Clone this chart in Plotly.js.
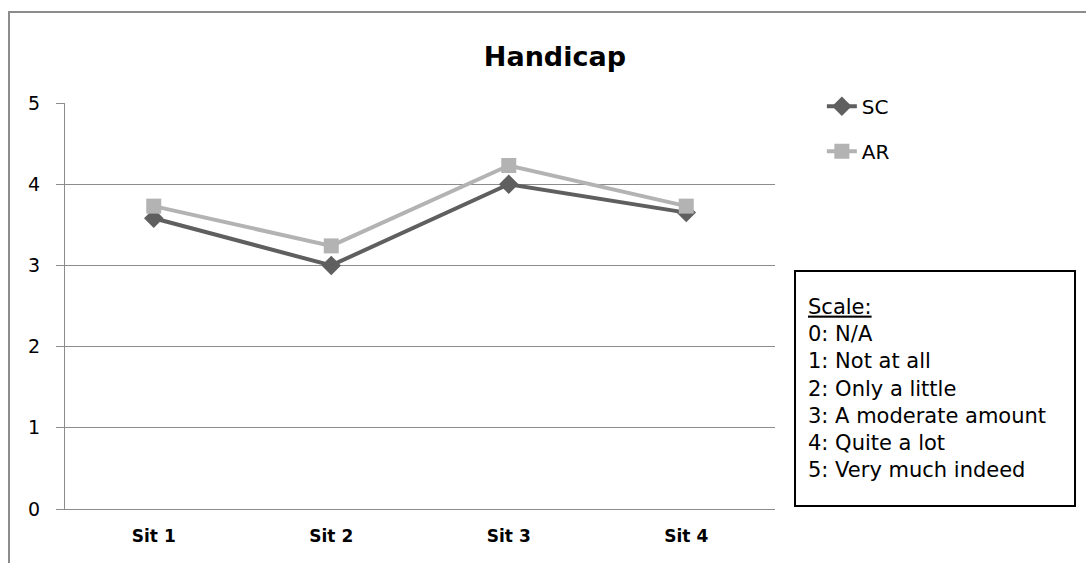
<!DOCTYPE html>
<html>
<head>
<meta charset="utf-8">
<script src="https://cdn.plot.ly/plotly-3.0.1.min.js"></script>
<style>
  html, body { margin: 0; padding: 0; background: #ffffff; overflow: hidden; }
  #frame { position: absolute; left: 8px; top: 11px; width: 1100px; height: 600px; border: 2px solid #8c8c8c; }
  #chart { position: absolute; left: 0; top: 0; width: 1086px; height: 563px; }
</style>
</head>
<body>
<div id="frame"></div>
<div id="chart"></div>
<script>
const categories = ["Sit 1", "Sit 2", "Sit 3", "Sit 4"];
const scValues = [3.58, 3.0, 4.0, 3.65];
const arValues = [3.73, 3.24, 4.23, 3.73];
const seriesNames = ["SC", "AR"];
const yTicks = [0, 1, 2, 3, 4, 5];
const scaleLines = ["0: N/A", "1: Not at all", "2: Only a little", "3: A moderate amount", "4: Quite a lot", "5: Very much indeed"];

const FONT = "'DejaVu Sans', Lato, sans-serif";

const traces = [
  {
    x: categories, y: scValues, name: seriesNames[0], type: "scatter", mode: "lines+markers",
    line: { color: "#5f5f5f", width: 4 },
    marker: { symbol: "diamond", size: 15, color: "#5f5f5f" },
    legendgroup: "a"
  },
  {
    x: categories, y: arValues, name: seriesNames[1], type: "scatter", mode: "lines+markers",
    line: { color: "#b3b3b3", width: 4 },
    marker: { symbol: "square", size: 15, color: "#b3b3b3" },
    legendgroup: "b"
  }
];

const layout = {
  width: 1086, height: 563,
  margin: { l: 65, r: 311, t: 103, b: 54 },
  paper_bgcolor: "rgba(0,0,0,0)",
  plot_bgcolor: "#ffffff",
  font: { family: FONT, color: "#000000", size: 18 },
  title: {
    text: "<b>Handicap</b>",
    font: { family: FONT, size: 27, color: "#000000" },
    x: 0.69, xanchor: "center", xref: "paper",
    y: 0.9, yanchor: "middle"
  },
  xaxis: {
    type: "category",
    showgrid: false,
    showline: true, linecolor: "#8c8c8c", linewidth: 1,
    ticks: "",
    tickfont: { family: FONT, size: 17, color: "#000000", weight: "bold" },
    ticklabelstandoff: 12,
    range: [-0.5, 3.5],
    fixedrange: true
  },
  yaxis: {
    range: [0, 5],
    tickvals: yTicks,
    ticktext: yTicks.map(String),
    showgrid: true, gridcolor: "#8c8c8c", gridwidth: 1,
    showline: true, linecolor: "#8c8c8c", linewidth: 1,
    ticks: "outside", ticklen: 8, tickcolor: "#8c8c8c",
    tickfont: { family: FONT, size: 19, color: "#000000" },
    ticklabelstandoff: 12,
    zeroline: false,
    fixedrange: true
  },
  showlegend: true,
  legend: {
    x: 1.066, xanchor: "left",
    y: 1.04, yanchor: "top",
    traceorder: "grouped",
    tracegroupgap: 16,
    font: { family: FONT, size: 20, color: "#000000" },
    bgcolor: "rgba(0,0,0,0)",
    itemwidth: 30
  },
  annotations: [
    {
      xref: "paper", yref: "paper",
      x: 1.027, y: 0.589, xanchor: "left", yanchor: "top",
      width: 254, height: 209,
      align: "left", valign: "middle",
      showarrow: false,
      bordercolor: "#000000", borderwidth: 2, borderpad: 12,
      bgcolor: "#ffffff",
      font: { family: FONT, size: 21, color: "#000000" },
      text: "<u>Scale:</u><br>" + scaleLines.join("<br>")
    }
  ]
};

Plotly.newPlot("chart", traces, layout, { displayModeBar: false, staticPlot: true });
</script>
</body>
</html>
